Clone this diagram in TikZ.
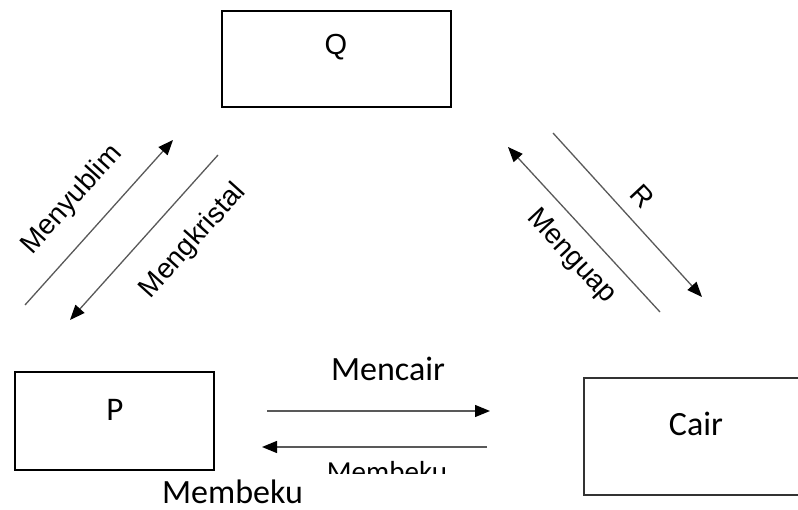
\documentclass[tikz,border=0pt]{standalone}
\usepackage{fontspec}
\setmainfont{Liberation Sans}
\newfontfamily\calibrifont{Carlito}
\usetikzlibrary{arrows, arrows.meta, positioning}
\tikzset{
	state-node/.style={
		rectangle,
		draw=black, line width=2pt,
		inner sep=0pt,
		anchor=center
	},
	state-text/.style={
		inner sep=0pt,
		font=\fontsize{29}{29}\selectfont
	},
	phase-text/.style={
		inner sep=0pt,
		font=\calibrifont\fontsize{34}{34}\selectfont
	},
	arrow-style/.style = {draw=black!65, line width=1.3pt, -{Triangle[length=15pt,width=12pt,color=black]}},
	arrow-label/.style = {inner sep=0pt, font=\fontsize{28}{28}\selectfont},
}
\begin{document}
\begin{tikzpicture}[x=1pt,y=-1pt]
	\useasboundingbox (0,0) rectangle (798,510);
	\clip (0,0) rectangle (798,510);
	% states
	\node (q) [state-node, minimum width=229pt, minimum height=96pt] at (336.5,59) {};
	\node (q-text) [state-text] at (336,47) {Q};
	\node (p) [state-node, minimum width=199pt, minimum height=98pt] at (114.5,421) {};
	\node (p-text) [phase-text, font=\calibrifont\fontsize{33}{33}\selectfont] at (115,410) {P};
	\node (cair) [state-node, draw=black!80, line width=1.5pt, minimum width=240pt, minimum height=117pt] at (704,436.5) {};
	\node (cair-text) [phase-text] at (696,424) {Cair};
	% arrows
	\coordinate (sublim-a) at (25,305);  \coordinate (sublim-b) at (173,140);
	\coordinate (kristal-a) at (218,155); \coordinate (kristal-b) at (70,320);
	\coordinate (uap-a) at (660,312);    \coordinate (uap-b) at (508,147);
	\coordinate (r-a) at (553,133);      \coordinate (r-b) at (702,297);
	\coordinate (cair-a) at (267,411);   \coordinate (cair-b) at (490,411);
	\coordinate (beku-a) at (487,447);   \coordinate (beku-b) at (262,447);
	\draw[arrow-style] (sublim-a) -- (sublim-b);
	\draw[arrow-style] (kristal-a) -- (kristal-b);
	\draw[arrow-style] (uap-a) -- (uap-b);
	\draw[arrow-style] (r-a) -- (r-b);
	\draw[arrow-style] (cair-a) -- (cair-b);
	\draw[arrow-style] (beku-a) -- (beku-b);
	% labels
	\node (sublim-text) [arrow-label, rotate=48] at (72,200) {Menyublim};
	\node (kristal-text) [arrow-label, rotate=48] at (193,241) {Mengkristal};
	\node (uap-text) [arrow-label, rotate=-47] at (571,257) {Menguap};
	\node (r-text) [arrow-label, rotate=-47] at (642,196) {R};
	\node (cair-label) [phase-text] at (388,369) {Mencair};
	\node (beku-label) [phase-text] at (232.5,492) {Membeku};
	\begin{scope}
		\clip (300,440) rectangle (480,473);
		\node (beku-cut) [phase-text, font=\calibrifont\fontsize{29}{29}\selectfont, anchor=base] at (387,482) {Membeku};
	\end{scope}
\end{tikzpicture}
\end{document}
